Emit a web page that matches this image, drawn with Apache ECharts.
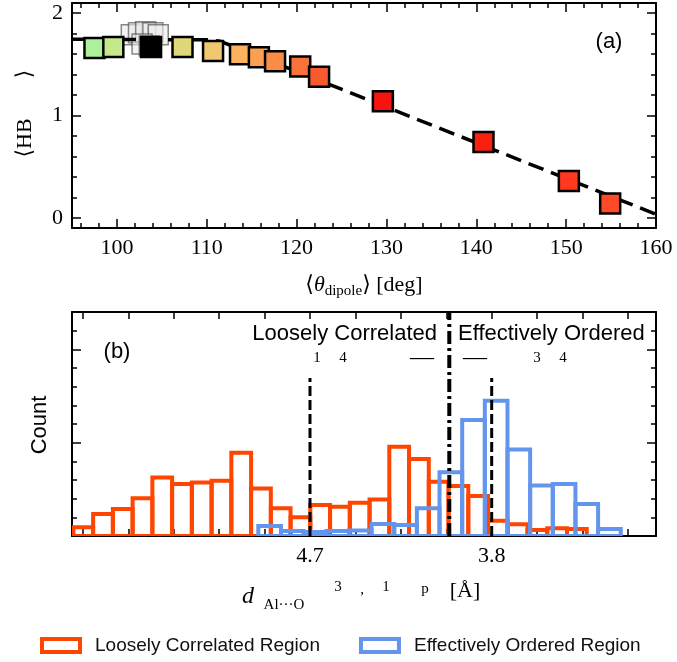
<!DOCTYPE html>
<html>
<head>
<meta charset="utf-8">
<script src="https://cdn.jsdelivr.net/npm/echarts@6/dist/echarts.min.js"></script>
<style>
  html, body { margin: 0; padding: 0; background: #fff; }
  #main { width: 677px; height: 662px; }
</style>
</head>
<body>
<div id="main"></div>
<script>
// panel (a): mean dipole angle vs mean HB
const thetaVals = [97.5, 99.6, 103.8, 107.3, 110.7, 113.7, 115.8, 117.6, 120.4, 122.5, 129.6, 140.8, 150.3, 154.9];
const hbVals = [1.66, 1.67, 1.67, 1.67, 1.63, 1.60, 1.57, 1.53, 1.48, 1.38, 1.14, 0.74, 0.36, 0.14];
const pointColors = ['#adf09a', '#c5e88a', '#000000', '#e0d67a', '#f0c870', '#fbb25f', '#fb9f50',
                     '#fa8c45', '#f8723a', '#f85a30', '#f5140e', '#fa2010', '#ff3820', '#ff4a2a'];
// faint overlapping squares behind the black one
const ghostTheta = [101.6, 102.4, 103.2, 104.0, 104.6, 102.8, 103.6];
const ghostHB = [1.79, 1.81, 1.82, 1.81, 1.79, 1.70, 1.68];
// fitted curve
const fitTheta = [95, 110, 111.5, 113, 160];
const fitHB = [1.745, 1.74, 1.725, 1.675, 0.035];

const topXLabels = [100, 110, 120, 130, 140, 150, 160];
const topYLabels = [0, 1, 2];

// panel (b): histograms
const orangeStart = 5.872, orangeWidth = 0.0978;
const orangeCounts = [0.47, 1.18, 1.45, 2.02, 3.14, 2.79, 2.87, 2.96, 4.46, 2.55, 1.48, 1.0, 1.66,
                      1.57, 1.78, 1.95, 4.78, 4.12, 2.91, 2.68, 2.14, 0.82, 0.63, 0.32, 0.41, 0.37];
const blueStart = 4.956, blueWidth = 0.1122;
const blueCounts = [0.54, 0.27, 0.22, 0.27, 0.30, 0.64, 0.59, 1.48, 3.41, 6.21, 7.25, 4.64, 2.70, 2.79, 1.71, 0.37];
const looseMean = 4.7, orderedMean = 3.8, boundary = 4.01, meanLineTop = 8.46;
const bottomXLabels = [4.7, 3.8];
const bottomXTicks = [5.825, 5.6, 5.375, 5.15, 4.925, 4.7, 4.475, 4.25, 4.025, 3.8, 3.575, 3.35, 3.125];

const SERIF = '"Liberation Serif", "DejaVu Serif", serif';
const SANS = '"Liberation Sans", Arial, sans-serif';

function ticksBetween(a, b, step, skip) {
    let out = [];
    for (let v = a; v <= b + 1e-9; v += step) {
        let r = Math.round(v * 1000) / 1000;
        if (!skip || Math.abs(r / skip - Math.round(r / skip)) > 1e-6) out.push(r);
    }
    return out;
}

function mkAxis(grid, pos, min, max, ticks, len, opts) {
    opts = opts || {};
    return {
        type: 'value', gridIndex: grid, position: pos, min: min, max: max,
        inverse: !!opts.inverse,
        axisLine: { show: !!opts.line, onZero: false, lineStyle: { color: '#000', width: 2 } },
        axisTick: { show: true, inside: true, length: len, customValues: ticks,
                    lineStyle: { color: '#000', width: 1.5 } },
        axisLabel: opts.labels ? {
            show: true, customValues: opts.labels, margin: opts.margin || 9,
            fontFamily: SERIF, fontSize: 22, color: '#000',
            showMinLabel: true, showMaxLabel: true,
            formatter: opts.fmt
        } : { show: false },
        splitLine: { show: false }
    };
}

const xMajorA = ticksBetween(100, 160, 10);
const xMinorA = ticksBetween(96, 158, 2, 10);
const yMajorA = [0, 1, 2];
const yMinorA = ticksBetween(0.2, 1.8, 0.2, 1);
const yMajorB = [0, 5, 10];
const yMinorB = ticksBetween(1, 11, 1, 5);

const xAxes = [
    mkAxis(0, 'bottom', 95, 160, xMajorA, 9, { line: true, labels: topXLabels }),
    mkAxis(0, 'bottom', 95, 160, xMinorA, 5),
    mkAxis(0, 'top', 95, 160, xMajorA, 9, { line: true }),
    mkAxis(0, 'top', 95, 160, xMinorA, 5),
    mkAxis(1, 'bottom', 2.9862, 5.8788, bottomXTicks, 7, { line: true, inverse: true, labels: bottomXLabels,
        fmt: function (v) { return v.toFixed(1); } }),
    mkAxis(1, 'top', 2.9862, 5.8788, bottomXTicks, 7, { line: true, inverse: true })
];
const yAxes = [
    mkAxis(0, 'left', -0.1, 2.1, yMajorA, 9, { line: true, labels: topYLabels }),
    mkAxis(0, 'left', -0.1, 2.1, yMinorA, 5),
    mkAxis(0, 'right', -0.1, 2.1, yMajorA, 9, { line: true }),
    mkAxis(0, 'right', -0.1, 2.1, yMinorA, 5),
    mkAxis(1, 'left', 0, 12, yMajorB, 9, { line: true }),
    mkAxis(1, 'left', 0, 12, yMinorB, 5),
    mkAxis(1, 'right', 0, 12, yMajorB, 9, { line: true }),
    mkAxis(1, 'right', 0, 12, yMinorB, 5)
];

function histRender(color) {
    return function (params, api) {
        const a = api.coord([api.value(0), 0]);
        const b = api.coord([api.value(1), api.value(2)]);
        const x0 = Math.min(a[0], b[0]), x1 = Math.max(a[0], b[0]);
        return {
            type: 'rect',
            shape: { x: x0, y: b[1], width: x1 - x0, height: a[1] - b[1] },
            style: { fill: 'none', stroke: color, lineWidth: 4 }
        };
    };
}

const orangeData = orangeCounts.map(function (c, i) {
    return [orangeStart - i * orangeWidth, orangeStart - (i + 1) * orangeWidth, c];
});
const blueData = blueCounts.map(function (c, i) {
    return [blueStart - i * blueWidth, blueStart - (i + 1) * blueWidth, c];
});

const mainPts = thetaVals.map(function (t, i) {
    return { value: [t, hbVals[i]], itemStyle: { color: pointColors[i] } };
});

function txt(x, y, text, font, extra) {
    return Object.assign({
        type: 'text', x: x, y: y, z: 100,
        style: { text: text, font: font, fill: '#000', align: 'center', verticalAlign: 'middle' }
    }, extra || {});
}

const option = {
    animation: false,
    backgroundColor: '#fff',
    grid: [
        { left: 72, top: 3, width: 584, height: 225 },
        { left: 72, top: 312, width: 584, height: 224 }
    ],
    xAxis: xAxes,
    yAxis: yAxes,
    legend: {
        left: 35, top: 631, itemWidth: 38, itemHeight: 13, itemGap: 39,
        textStyle: { fontFamily: SANS, fontSize: 19, color: '#111', padding: [0, 0, 0, 10] },
        data: [
            { name: 'Loosely Correlated Region', icon: 'rect',
              itemStyle: { color: '#fff', borderColor: '#ff4500', borderWidth: 4 } },
            { name: 'Effectively Ordered Region', icon: 'rect',
              itemStyle: { color: '#fff', borderColor: '#6495ed', borderWidth: 4 } }
        ]
    },
    series: [
        {
            type: 'scatter', xAxisIndex: 0, yAxisIndex: 0, symbol: 'rect', symbolSize: 20, z: 2,
            itemStyle: { color: 'rgba(235,235,235,0.6)', borderColor: 'rgba(60,60,60,0.6)', borderWidth: 1.5, opacity: 1 },
            data: ghostTheta.map(function (t, i) { return [t, ghostHB[i]]; })
        },
        {
            type: 'line', xAxisIndex: 0, yAxisIndex: 0, symbol: 'none', z: 3,
            lineStyle: { color: '#000', width: 3.5, type: [16, 8] },
            data: fitTheta.map(function (t, i) { return [t, fitHB[i]]; })
        },
        {
            type: 'scatter', xAxisIndex: 0, yAxisIndex: 0, symbol: 'rect', symbolSize: 20, z: 4,
            itemStyle: { borderColor: '#000', borderWidth: 2.5, opacity: 1 },
            data: mainPts
        },
        {
            name: 'Loosely Correlated Region', type: 'custom', xAxisIndex: 4, yAxisIndex: 4, clip: true,
            renderItem: histRender('#ff4500'), encode: { x: [0, 1], y: 2 },
            itemStyle: { color: '#ff4500' }, data: orangeData
        },
        {
            name: 'Effectively Ordered Region', type: 'custom', xAxisIndex: 4, yAxisIndex: 4, clip: true,
            renderItem: histRender('#6495ed'), encode: { x: [0, 1], y: 2 },
            itemStyle: { color: '#6495ed' }, data: blueData
        },
        {
            type: 'line', xAxisIndex: 4, yAxisIndex: 4, symbol: 'none', z: 5,
            lineStyle: { color: '#000', width: 3, type: [10, 4] },
            data: [[looseMean, 0], [looseMean, meanLineTop]]
        },
        {
            type: 'line', xAxisIndex: 4, yAxisIndex: 4, symbol: 'none', z: 5,
            lineStyle: { color: '#000', width: 3, type: [10, 4] },
            data: [[orderedMean, 0], [orderedMean, meanLineTop]]
        },
        {
            type: 'line', xAxisIndex: 4, yAxisIndex: 4, symbol: 'none', z: 5,
            lineStyle: { color: '#000', width: 4, type: [13, 4, 3, 4] },
            data: [[boundary, 0], [boundary, 12]]
        }
    ],
    graphic: [
        txt(609, 42, '(a)', '22px ' + SANS),
        txt(117, 352, '(b)', '22px ' + SANS),
        // x label panel (a)
        {
            type: 'text', x: 364, y: 285, z: 100,
            style: {
                text: '{a|\u27E8}{t|\u03B8}{s|dipole}{a|\u27E9 [deg]}',
                rich: {
                    a: { font: '22px ' + SERIF },
                    t: { font: 'italic 22px ' + SERIF },
                    s: { font: '15px ' + SERIF, padding: [12, 0, 0, 0] }
                },
                fill: '#000', align: 'center', verticalAlign: 'middle'
            }
        },
        // y label panel (a)
        txt(25, 138, '\u27E8HB', '22px ' + SERIF, { rotation: Math.PI / 2 }),
        txt(25, 74, '\u27E9', '22px ' + SERIF, { rotation: Math.PI / 2 }),
        // y label panel (b)
        txt(40, 425, 'Count', '22px ' + SANS, { rotation: Math.PI / 2 }),
        // region titles
        { type: 'text', x: 437, y: 334, z: 100,
          style: { text: 'Loosely Correlated', font: '22px ' + SANS, fill: '#000', align: 'right', verticalAlign: 'middle' } },
        { type: 'text', x: 458, y: 334, z: 100,
          style: { text: 'Effectively Ordered', font: '22px ' + SANS, fill: '#000', align: 'left', verticalAlign: 'middle' } },
        txt(317, 358, '1', '15px ' + SERIF),
        txt(343, 358, '4', '15px ' + SERIF),
        txt(422, 358, '\u2014', '24px ' + SERIF),
        txt(475, 358, '\u2014', '24px ' + SERIF),
        txt(537, 358, '3', '15px ' + SERIF),
        txt(563, 358, '4', '15px ' + SERIF),
        // x label panel (b)
        txt(248, 597, 'd', 'italic 24px ' + SERIF),
        txt(284, 605, 'Al\u00B7\u00B7\u00B7O', '15px ' + SERIF),
        txt(338, 587, '3', '15px ' + SERIF),
        txt(362, 590, ',', '15px ' + SERIF),
        txt(386, 587, '1', '15px ' + SERIF),
        txt(425, 589, 'p', '15px ' + SERIF),
        txt(465, 591, '[\u00C5]', '22px ' + SERIF)
    ]
};

const chart = echarts.init(document.getElementById('main'));
chart.setOption(option);
window.onresize = function () { chart.resize(); };
</script>
</body>
</html>
